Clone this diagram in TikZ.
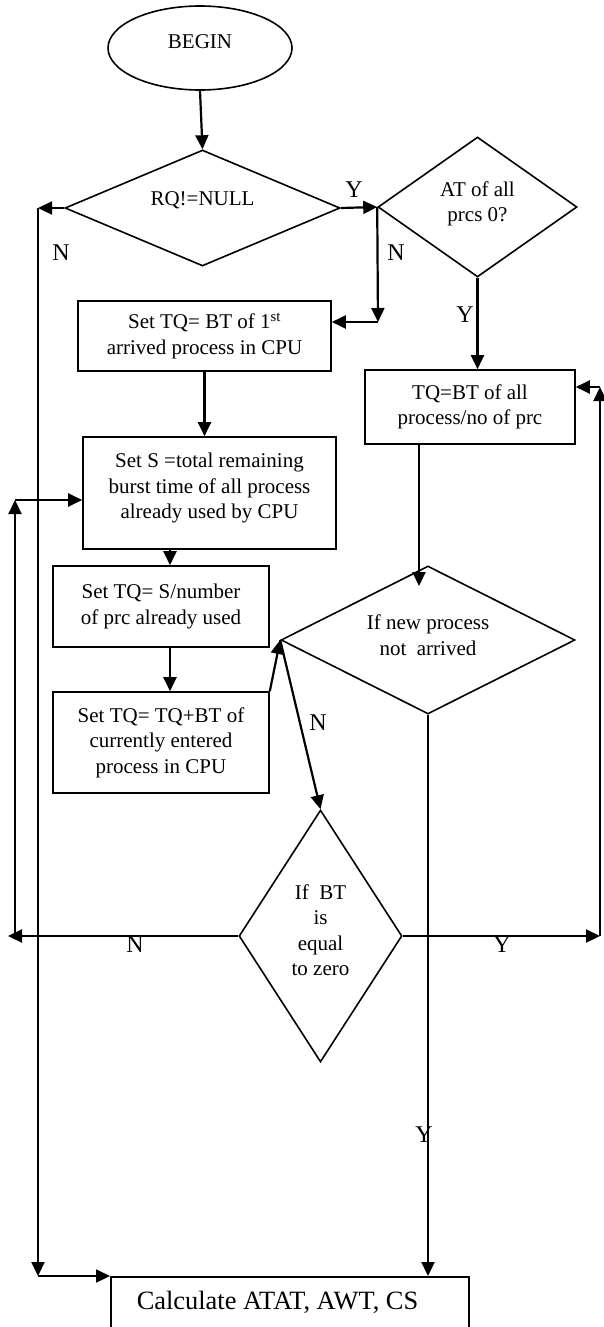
\documentclass[tikz,border=0pt]{standalone}
\usepackage{fontspec}
\setmainfont{Liberation Serif}
\usetikzlibrary{shapes.geometric,arrows.meta}
\begin{document}
\begin{tikzpicture}[x=1pt,y=-1pt,
  shp/.style={draw, line width=1.6pt, inner sep=0pt},
  boxn/.style={shp, rectangle, align=center, font=\fontsize{21}{25.5}\selectfont},
  dia/.style={shp, diamond},
  txt/.style={align=center, font=\fontsize{21}{25.5}\selectfont, inner sep=0pt},
  lbl/.style={font=\fontsize{24}{28}\selectfont, inner sep=0pt},
  conn/.style={line width=2.2pt},
  arr/.style={conn, -{Triangle[length=14pt,width=13pt]}},
]
\useasboundingbox (0,0) rectangle (603,1327);

% shapes
\node[shp, ellipse, minimum width=184pt, minimum height=84pt] (begin) at (200,48) {};
\node[txt] (begintxt) at (200,42) {BEGIN};
\node[dia, minimum width=275pt, minimum height=116pt] (rq) at (202.5,208) {};
\node[txt] (rqtxt) at (202.5,200) {RQ!=NULL};
\node[dia, minimum width=199pt, minimum height=140pt] (at) at (477.5,207) {};
\node[txt] (attxt) at (477.5,204) {AT of all\\prcs 0?};
\node[boxn, minimum width=253pt, minimum height=70pt] (b1) at (204.5,336) {Set TQ= BT of 1\textsuperscript{st}\\arrived process in CPU};
\node[boxn, minimum width=253pt, minimum height=112pt] (b2) at (209.5,493) {};
\node[txt] (b2txt) at (209.5,488) {Set S =total remaining\\burst time of all process\\already used by CPU};
\node[boxn, minimum width=216pt, minimum height=81pt] (b3) at (161,606.5) {Set TQ= S/number\\of prc already used};
\node[boxn, minimum width=216pt, minimum height=101pt] (b4) at (161,742.5) {Set TQ= TQ+BT of\\currently entered\\process in CPU};
\node[boxn, minimum width=210pt, minimum height=74pt] (tq) at (470,407) {TQ=BT of all\\process/no of prc};
\node[dia, minimum width=294pt, minimum height=148pt] (np) at (428,640) {};
\node[txt] (nptxt) at (428,635) {If new process\\not\ \ arrived};
\node[dia, minimum width=163pt, minimum height=252pt] (bt) at (320.5,936) {};
\node[txt] (bttxt) at (320.5,930) {If\ \ BT\\is\\equal\\to zero};
\node[shp, rectangle, minimum width=358pt, minimum height=80pt, anchor=north west] (calc) at (110,1276) {};
\node[font=\fontsize{26.4}{30}\selectfont, inner sep=0pt] (calctxt) at (277.5,1302) {Calculate ATAT, AWT, CS};

% helper coordinates
\coordinate (nl) at (38,208);
\coordinate (nb) at (38,1276);
\coordinate (an) at (378,322);
\coordinate (c23) at (170,549);
\coordinate (tqd) at (419,0);
\coordinate (npin) at (419,586);
\coordinate (bl) at (8,936);
\coordinate (lu) at (15,936);
\coordinate (lt) at (15,500);
\coordinate (br) at (600,936);
\coordinate (rt) at (600,387);

% connectors
\draw[arr] (begin.south) -- (rq.north);
\draw[arr] (rq.west) -- (nl);
\draw[arr] (nl) -- (nb);
\draw[arr] (nb) -- (calc.north west);
\draw[arr] (rq.east) -- (at.west);
\draw[arr] (at.west) -- (an);
\draw[arr] (an) -- (an -| b1.east);
\draw[arr] (at.south) -- (at.south |- tq.north);
\draw[arr] (b1.south) -- (b1.south |- b2.north);
\draw[arr] (c23) -- (c23 |- b3.north);
\draw[arr] (b3.south -| c23) -- (b4.north -| c23);
\draw[arr] (b4.north east) -- (np.west);
\draw[arr] (np.west) -- (bt.north);
\draw[arr] (tq.south -| tqd) -- (npin);
\draw[arr] (np.south) -- (np.south |- calc.north);
\draw[arr] (bt.west) -- (bl);
\draw[arr] (lu) -- (lt);
\draw[arr] (lt) -- (lt -| b2.west);
\draw[arr] (bt.east) -- (br);
\draw[arr] (br) -- (rt);
\draw[arr] (rt) -- (rt -| tq.east);

% labels
\node[lbl] (l1) at (61,253) {N};
\node[lbl] (l2) at (354,190) {Y};
\node[lbl] (l3) at (396,253) {N};
\node[lbl] (l4) at (465,315) {Y};
\node[lbl] (l5) at (318,723) {N};
\node[lbl] (l6) at (135,945) {N};
\node[lbl] (l7) at (502,945) {Y};
\node[lbl] (l8) at (424,1135) {Y};
\end{tikzpicture}
\end{document}
